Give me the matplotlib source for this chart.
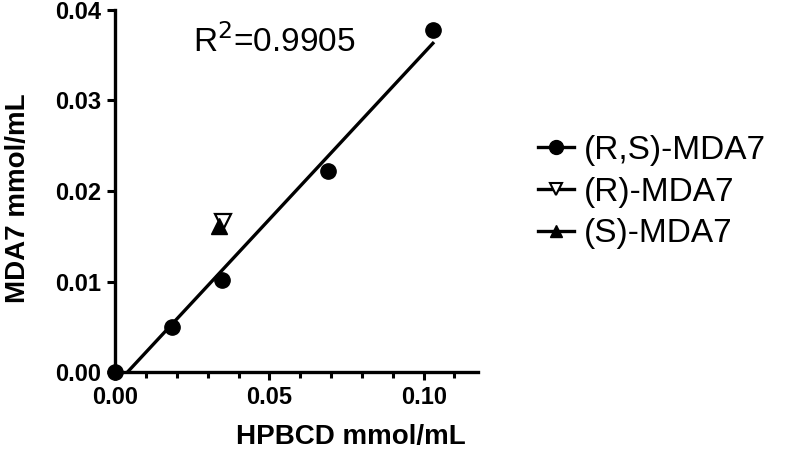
import matplotlib.pyplot as plt
import numpy as np

plt.rcParams['font.family'] = ['Liberation Sans', 'DejaVu Sans']

# data
hpbcd = [0.0, 0.0185, 0.0345, 0.069, 0.103]
mda7 = [0.0, 0.0050, 0.0102, 0.0222, 0.0378]
r_x = [0.0350]
r_y = [0.0166]
s_x = [0.0335]
s_y = [0.0161]
r2_text = 'R$^2$=0.9905'

fig = plt.figure(figsize=(8, 4.51), dpi=100)
ax = fig.add_axes([0.144, 0.175, 0.453, 0.803])

# linear fit line over the racemate data
slope, icpt = np.polyfit(hpbcd, mda7, 1)
x0 = -icpt / slope
xs = np.array([x0, max(hpbcd)])
ax.plot(xs, slope * xs + icpt, color='black', lw=2.4, zorder=2)

ax.plot(hpbcd, mda7, 'o', color='black', ms=11, clip_on=False, zorder=3)
ax.plot(r_x, r_y, 'v', mfc='white', mec='black', mew=1.6, ms=11, zorder=3)
ax.plot(s_x, s_y, '^', color='black', ms=11, zorder=3)

# legend entries: marker with a line through it
h1, = ax.plot([], [], '-o', color='black', lw=2.4, ms=10)
h2, = ax.plot([], [], '-v', color='black', mfc='white', mew=1.5, lw=2.4, ms=9)
h3, = ax.plot([], [], '-^', color='black', lw=2.4, ms=9)
fig.legend([h1, h2, h3], ['(R,S)-MDA7', '(R)-MDA7', '(S)-MDA7'],
           loc='center left', bbox_to_anchor=(0.672, 0.574), frameon=False,
           fontsize=24, handlelength=1.1, labelspacing=0.32, handletextpad=0.3,
           borderaxespad=0, borderpad=0)

ax.text(0.0253, 0.0354, r2_text, fontsize=24)

ax.set_xlim(0, 0.1175)
ax.set_ylim(0, 0.04)
ax.set_xticks([0, 0.05, 0.10])
ax.set_xticks(np.arange(0, 0.111, 0.01), minor=True)
ax.set_yticks([0, 0.01, 0.02, 0.03, 0.04])
ax.set_xticklabels(['0.00', '0.05', '0.10'], fontweight='bold', fontsize=17)
ax.set_yticklabels(['0.00', '0.01', '0.02', '0.03', '0.04'], fontweight='bold', fontsize=17)
ax.tick_params(axis='both', which='major', width=2.2, length=6, pad=4)
ax.tick_params(axis='x', which='minor', width=2.2, length=4)

for s in ['top', 'right']:
    ax.spines[s].set_visible(False)
for s in ['left', 'bottom']:
    ax.spines[s].set_linewidth(2.4)

ax.set_xlabel('HPBCD mmol/mL', fontweight='bold', fontsize=20)
ax.set_ylabel('MDA7 mmol/mL', fontweight='bold', fontsize=20)
ax.xaxis.set_label_coords(0.65, -0.143)
ax.yaxis.set_label_coords(-0.232, 0.48)

fig.savefig('out.png', dpi=100)
